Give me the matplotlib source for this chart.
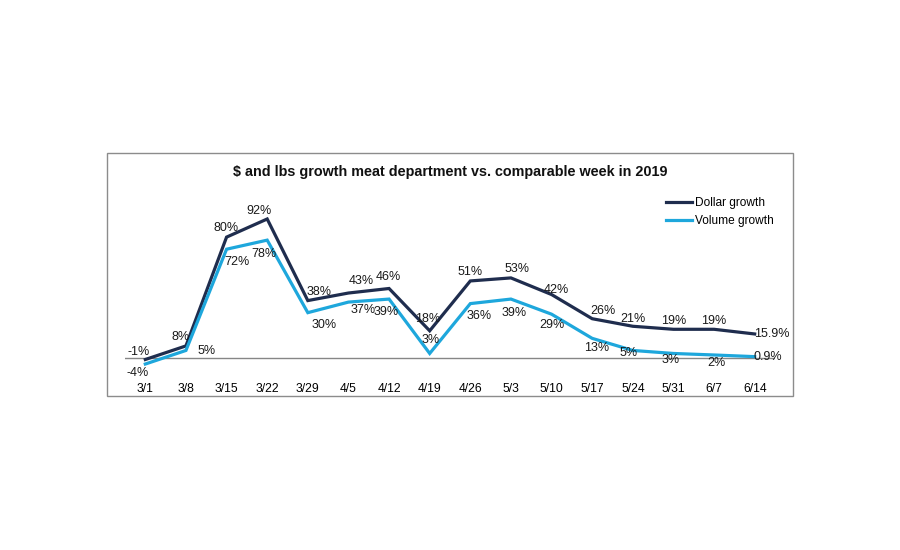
import matplotlib
matplotlib.use("Agg")
import matplotlib.pyplot as plt
from matplotlib.patches import Rectangle

weeks = ["3/1", "3/8", "3/15", "3/22", "3/29", "4/5", "4/12", "4/19",
         "4/26", "5/3", "5/10", "5/17", "5/24", "5/31", "6/7", "6/14"]
dollar_growth = [-1, 8, 80, 92, 38, 43, 46, 18, 51, 53, 42, 26, 21, 19, 19, 15.9]
volume_growth = [-4, 5, 72, 78, 30, 37, 39, 3, 36, 39, 29, 13, 5, 3, 2, 0.9]
dollar_labels = ["-1%", "8%", "80%", "92%", "38%", "43%", "46%", "18%", "51%",
                 "53%", "42%", "26%", "21%", "19%", "19%", "15.9%"]
volume_labels = ["-4%", "5%", "72%", "78%", "30%", "37%", "39%", "3%", "36%",
                 "39%", "29%", "13%", "5%", "3%", "2%", "0.9%"]

# label offsets in pixels (style only)
dollar_off = [(-7, 8), (-5, 9), (-1, 9), (-8, 8), (11, 9), (13, 12), (-1, 11), (-2, 12),
              (0, 9), (6, 9), (5, 5), (11, 8), (0, 7), (0, 8), (0, 8), (-1, 0)]
volume_off = [(-8, -9), (21, -1), (10, -13), (-3, -14), (16, -12), (15, -8), (-3, -13), (1, 13),
              (9, -12), (3, -14), (0, -11), (4, -10), (-4, -3), (-3, -7), (2, -8), (-1, 0)]

NAVY = "#1f2d4e"
BLUE = "#1ea7dc"

plt.rcParams["font.family"] = ["Liberation Sans", "DejaVu Sans"]

fig = plt.figure(figsize=(9, 5.5), dpi=100)
fig.patch.set_facecolor("white")

# chart border
fig.patches.append(Rectangle((107 / 900, (550 - 396) / 550), 686 / 900, 243 / 550,
                             transform=fig.transFigure, fill=False,
                             edgecolor="#8c8c8c", linewidth=1.0))

ax = fig.add_axes([125 / 900, (550 - 376) / 550, 650 / 900, 176 / 550])
x = list(range(len(weeks)))
ax.plot(x, dollar_growth, color=NAVY, lw=2.3, label="Dollar growth", clip_on=False,
        solid_joinstyle="miter", zorder=3)
ax.plot(x, volume_growth, color=BLUE, lw=2.3, label="Volume growth", clip_on=False,
        solid_joinstyle="miter", zorder=3)
ax.axhline(0, color="#868686", lw=1.0, zorder=1)

ax.set_xlim(-0.5, len(weeks) - 0.5)
ax.set_ylim(-18 / 1.511, 158 / 1.511)
ax.set_xticks(x)
ax.set_xticklabels(weeks, fontsize=8.7)
ax.tick_params(axis="x", length=0, pad=5)
ax.set_yticks([])
for s in ax.spines.values():
    s.set_visible(False)
ax.patch.set_alpha(0)

for i, (v, lab, (dx, dy)) in enumerate(zip(dollar_growth, dollar_labels, dollar_off)):
    last = i == len(weeks) - 1
    ax.annotate(lab, (i, v), xytext=(dx, dy), textcoords="offset pixels",
                ha="left" if last else "center", va="center", fontsize=9, color="#1a1a1a",
                annotation_clip=False)
for i, (v, lab, (dx, dy)) in enumerate(zip(volume_growth, volume_labels, volume_off)):
    last = i == len(weeks) - 1
    ax.annotate(lab, (i, v), xytext=(dx, dy), textcoords="offset pixels",
                ha="left" if last else "center", va="center", fontsize=9, color="#1a1a1a",
                annotation_clip=False)

fig.text(0.5, (550 - 172) / 550, "$ and lbs growth meat department vs. comparable week in 2019",
         ha="center", va="center", fontsize=10.4, fontweight="bold", color="#111111")

ax.legend(loc="upper left", bbox_to_anchor=(666 / 900, (550 - 197) / 550),
          bbox_transform=fig.transFigure, frameon=False, fontsize=8.6,
          handlelength=2.2, handletextpad=0.2, labelspacing=0.5,
          borderpad=0, borderaxespad=0)

fig.savefig("out.png", dpi=100, facecolor="white")
